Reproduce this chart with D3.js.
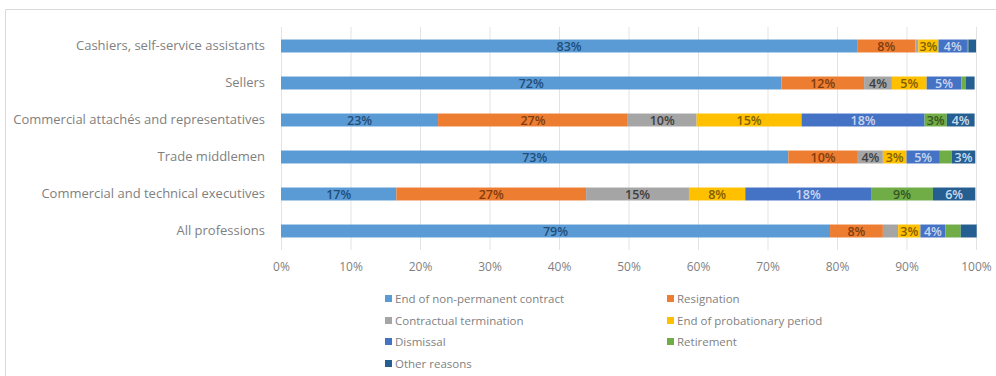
<!DOCTYPE html>
<html><head><meta charset="utf-8">
<script src="https://cdn.jsdelivr.net/npm/d3@7"></script>
<style>body{margin:0;background:#fff;} svg{display:block;}</style>
</head><body>
<svg id="c" width="996" height="376"></svg>
<script>
const categories = ["Cashiers, self-service assistants","Sellers","Commercial attachés and representatives","Trade middlemen","Commercial and technical executives","All professions"];
const seriesNames = ["End of non-permanent contract","Resignation","Contractual termination","End of probationary period","Dismissal","Retirement","Other reasons"];
const endNonPermanent = [82.9, 72.0, 22.6, 73.0, 16.6, 79.0];
const resignation     = [8.4, 11.9, 27.3, 10.0, 27.3, 7.6];
const contractualTerm = [0.4, 4.0, 9.9, 3.6, 14.8, 2.2];
const endProbation    = [2.9, 5.0, 15.1, 3.4, 8.1, 3.2];
const dismissal       = [4.1, 5.0, 17.7, 4.8, 18.1, 3.6];
const retirement      = [0.2, 0.6, 3.2, 1.7, 8.9, 2.2];
const otherReasons    = [1.1, 1.3, 4.0, 3.4, 6.1, 2.3];
const xTicks = [0,10,20,30,40,50,60,70,80,90,100];
const colors = ["#5B9BD5","#ED7D31","#A5A5A5","#FFC000","#4472C4","#70AD47","#255E91"];
const labelColors = ["#1F4E79","#843C0C","#404040","#7F6000","#C9D6F0","#375623","#C5DCF0"];

const seriesVals = [endNonPermanent,resignation,contractualTerm,endProbation,dismissal,retirement,otherReasons];
const rows = categories.map((c,i)=>{const o={cat:c}; seriesNames.forEach((s,j)=>o[s]=seriesVals[j][i]); return o;});
const stack = d3.stack().keys(seriesNames)(rows);

const svg = d3.select("#c");
const font = "'Open Sans', 'DejaVu Sans', sans-serif";
svg.append("path").attr("d","M5.5,376 L5.5,9.5 L996,9.5").attr("fill","none").attr("stroke","#d9d9d9");

const x = d3.scaleLinear().domain([0,100]).range([281,976]);
const y = d3.scaleBand().domain(categories).range([27.5,249.5]).paddingInner(0.65).paddingOuter(0.325);

svg.append("g").selectAll("line").data(xTicks).join("line")
  .attr("x1",d=>x(d)+0.5).attr("x2",d=>x(d)+0.5).attr("y1",27).attr("y2",250)
  .attr("stroke","#e3e3e3").attr("stroke-width",1);

const xAxis = svg.append("g").attr("transform","translate(0,250)")
  .call(d3.axisBottom(x).tickValues(xTicks).tickFormat(d=>d+"%").tickSize(0).tickPadding(12));
xAxis.select(".domain").remove();
xAxis.selectAll("text").attr("font-family",font).attr("font-size","12px").attr("fill","#7f7f7f");

const yAxis = svg.append("g").attr("transform","translate(281,0)")
  .call(d3.axisLeft(y).tickSize(0).tickPadding(16));
yAxis.select(".domain").remove();
yAxis.selectAll("text").attr("font-family",font).attr("font-size","13px").attr("fill","#7f7f7f");

const g = svg.append("g");
stack.forEach((layer,j)=>{
  g.append("g").selectAll("rect").data(layer).join("rect")
    .attr("x",d=>x(d[0])).attr("width",d=>x(d[1])-x(d[0]))
    .attr("y",d=>y(d.data.cat)).attr("height",y.bandwidth())
    .attr("fill",colors[j]);
  g.append("g").selectAll("text").data(layer.filter(d=>d[1]-d[0]>=2.5)).join("text")
    .attr("x",d=>(x(d[0])+x(d[1]))/2).attr("y",d=>y(d.data.cat)+y.bandwidth()/2)
    .attr("dy","0.36em").attr("text-anchor","middle")
    .attr("font-family",font).attr("font-size","12.5px").attr("font-weight","600")
    .attr("fill",labelColors[j])
    .text(d=>Math.round(d[1]-d[0])+"%");
});

const legX = [385, 667], legY = [299, 321, 342, 364];
const leg = svg.append("g");
seriesNames.forEach((s,i)=>{
  const lx = legX[i%2], ly = legY[Math.floor(i/2)];
  leg.append("rect").attr("x",lx).attr("y",ly-4).attr("width",7).attr("height",7).attr("fill",colors[i]);
  leg.append("text").attr("x",lx+10).attr("y",ly).attr("dy","0.35em")
    .attr("font-family",font).attr("font-size","11.5px").attr("fill","#7f7f7f").text(s);
});
</script>
</body></html>
